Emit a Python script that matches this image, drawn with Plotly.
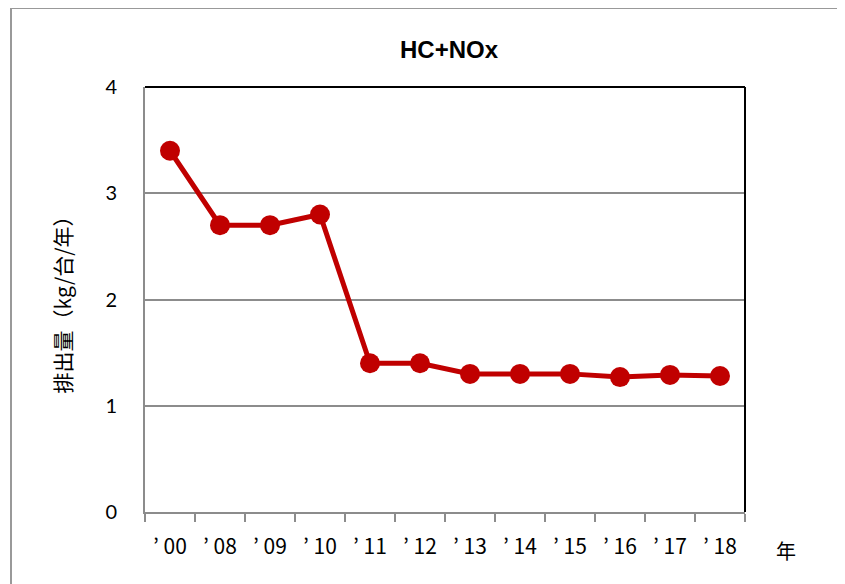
import plotly.graph_objects as go

categories = ["’ 00", "’ 08", "’ 09", "’ 10", "’ 11", "’ 12", "’ 13", "’ 14", "’ 15", "’ 16", "’ 17", "’ 18"]
values = [3.4, 2.7, 2.7, 2.8, 1.4, 1.4, 1.3, 1.3, 1.3, 1.27, 1.29, 1.28]
y_ticks = [0, 1, 2, 3, 4]

OFF = 8  # page body margin
W, H = 845 - OFF, 584 - OFF
L, T = 145 - OFF, 87 - OFF
R = W - L - 600
B = H - T - 425
pw, ph = W - L - R, H - T - B

def px_x(px):
    return (px - OFF - L) / pw

def px_y(py):
    return (H - B - (py - OFF)) / ph

fig = go.Figure()
fig.add_trace(go.Scatter(
    x=categories, y=values, mode="lines+markers",
    line=dict(color="#C00000", width=5),
    marker=dict(color="#C00000", size=20),
    hoverinfo="x+y", showlegend=False,
))

fig.update_layout(
    width=W, height=H,
    margin=dict(l=L, r=R, t=T, b=B, pad=0),
    paper_bgcolor="white", plot_bgcolor="white",
    font=dict(family="Lato, Noto Sans CJK JP", size=20, color="black"),
    title=dict(text="<b>HC+NOx</b>", x=px_x(449), xanchor="center", xref="paper",
               y=1 - (50 - OFF) / H, yanchor="middle",
               font=dict(family="Liberation Sans", size=24, color="black")),
    xaxis=dict(
        type="category", range=[-0.5, len(categories) - 0.5],
        tickson="boundaries", ticks="outside", ticklen=8,
        tickcolor="#8c8c8c", tickwidth=2, showgrid=False,
        showline=True, linecolor="#8c8c8c", linewidth=2,
        tickfont=dict(family="Noto Sans CJK JP", size=21, color="black"),
        ticklabelstandoff=15, fixedrange=True,
    ),
    yaxis=dict(
        range=[0, 4], tickvals=y_ticks, ticktext=[str(v) for v in y_ticks],
        showgrid=True, gridcolor="#8c8c8c", gridwidth=2, zeroline=False,
        showline=True, linecolor="#8c8c8c", linewidth=2, ticks="",
        ticklabelstandoff=22, tickfont=dict(family="Lato", size=20, color="black"),
        title=dict(text="排出量（kg/台/年）", standoff=28,
                   font=dict(family="Noto Sans CJK JP", size=21, color="black")),
        fixedrange=True,
    ),
    shapes=[
        dict(type="line", xref="paper", yref="paper", x0=0, x1=1, y0=1, y1=1,
             line=dict(color="black", width=2)),
        dict(type="line", xref="paper", yref="paper", x0=1, x1=1, y0=0, y1=1,
             line=dict(color="black", width=2)),
        dict(type="rect", xref="paper", yref="paper",
             x0=px_x(11), x1=px_x(900), y0=px_y(8), y1=px_y(640),
             line=dict(color="#999999", width=2), layer="below"),
    ],
    annotations=[
        dict(text="年", xref="paper", yref="paper", x=px_x(786), y=px_y(550),
             showarrow=False, xanchor="center", yanchor="middle",
             font=dict(family="Noto Sans CJK JP", size=20, color="black")),
    ],
)

fig.write_html("out.html")
